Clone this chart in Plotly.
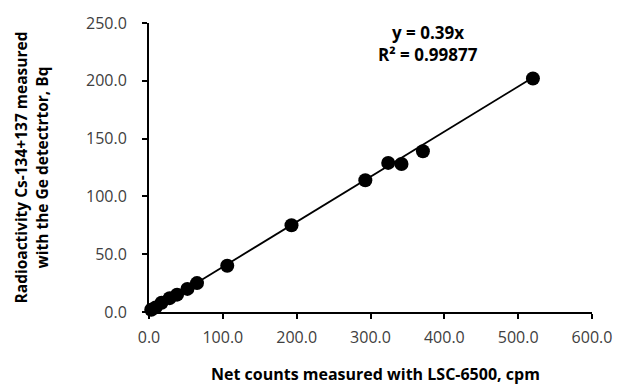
import plotly.graph_objects as go

x_cpm = [3, 9, 17, 28, 38, 52, 65, 106, 193, 293, 324, 342, 371, 520]
y_bq = [2, 4, 8, 12, 15, 20, 25, 40, 75, 114, 129, 128, 139, 202]
slope = 0.39
fit_x = [0, 520]
fit_y = [slope * v for v in fit_x]

fig = go.Figure()
fig.add_trace(go.Scatter(x=fit_x, y=fit_y, mode="lines",
                         line=dict(color="black", width=1.8), cliponaxis=False,
                         showlegend=False, hoverinfo="skip"))
fig.add_trace(go.Scatter(x=x_cpm, y=y_bq, mode="markers",
                         marker=dict(color="black", size=14), cliponaxis=False,
                         showlegend=False))

fnt = "Open Sans"
T, B = 18, 73
H = 385 - T - B
fig.update_layout(
    width=624, height=385,
    margin=dict(l=149, r=20, t=T, b=B),
    paper_bgcolor="white", plot_bgcolor="white",
    font=dict(family=fnt, color="#404040", size=16),
    xaxis=dict(range=[0, 600], dtick=100, tickformat=".1f", showgrid=False,
               zeroline=False, showline=True, linecolor="black", linewidth=2,
               ticks="outside", ticklen=5, tickcolor="black", tickwidth=2,
               ticklabeloverflow="allow", ticklabelstandoff=5,
               tickfont=dict(size=16, family=fnt, color="#404040")),
    yaxis=dict(range=[0, 250], dtick=50, tickformat=".1f", showgrid=False,
               zeroline=False, showline=True, linecolor="black", linewidth=2,
               ticks="outside", ticklen=5, tickcolor="black", tickwidth=2,
               ticklabeloverflow="allow", ticklabelstandoff=12,
               tickfont=dict(size=16, family=fnt, color="#404040"),
               title=dict(text="<b>Radioactivity Cs-134+137 measured<br>with the Ge detectrtor, Bq</b>",
                          font=dict(size=15.5, family=fnt, color="black"), standoff=34)),
    annotations=[
        dict(x=(436 - 149) / 455, y=(385 - B - 28) / H, xref="paper", yref="paper",
             xanchor="center", yanchor="middle", showarrow=False,
             text="<b>y = 0.39x</b>", font=dict(size=17, family=fnt, color="black")),
        dict(x=(436 - 149) / 455, y=(385 - B - 50) / H, xref="paper", yref="paper",
             xanchor="center", yanchor="middle", showarrow=False,
             text="<b>R² = 0.99877</b>", font=dict(size=17, family=fnt, color="black")),
        dict(x=(382 - 149) / 455, y=(385 - B - 375) / H, xref="paper", yref="paper",
             xanchor="center", yanchor="middle", showarrow=False,
             text="<b>Net counts measured with LSC-6500, cpm</b>",
             font=dict(size=16, family=fnt, color="black")),
    ],
)
fig.write_html("out.html")
